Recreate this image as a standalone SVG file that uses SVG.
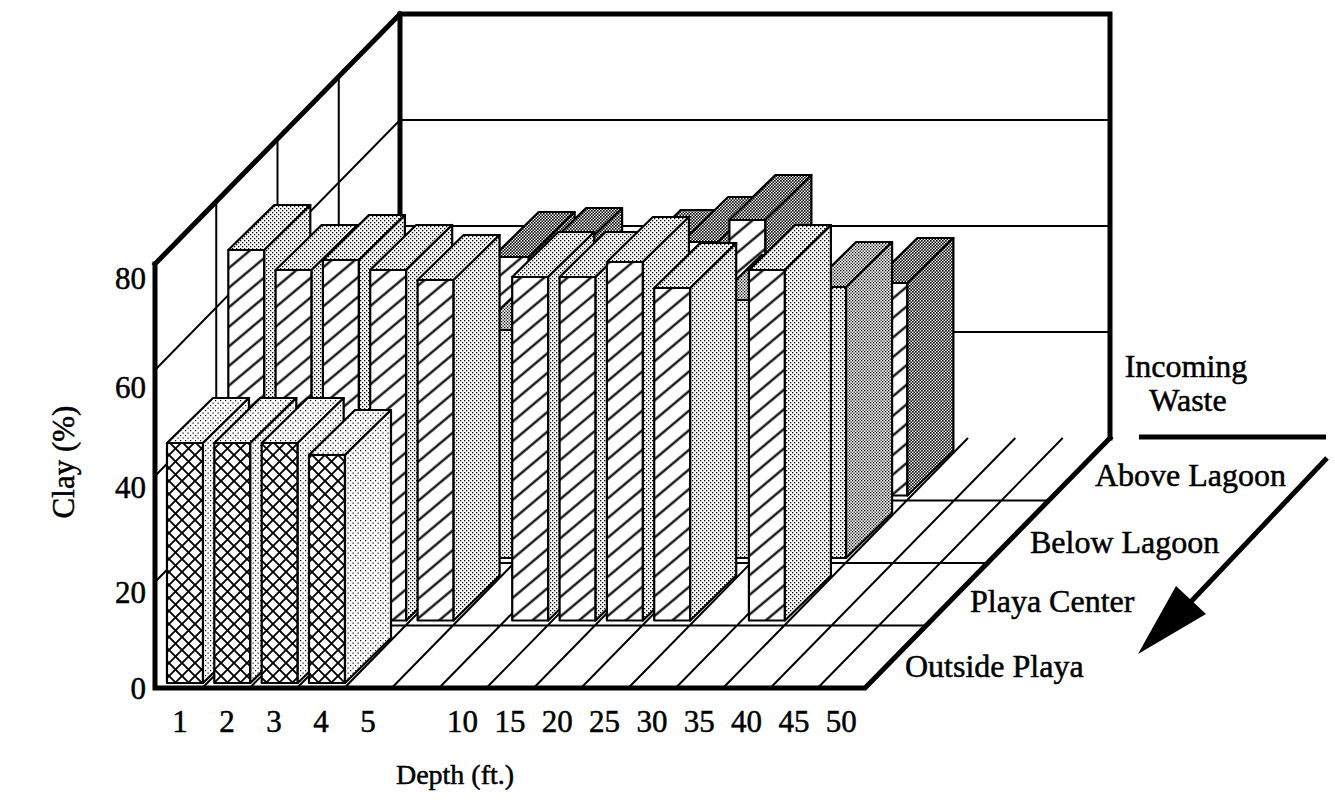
<svg xmlns="http://www.w3.org/2000/svg" width="1335" height="804" viewBox="0 0 1335 804">
<style>
text{font-family:"Liberation Serif","Times New Roman",serif;fill:#000;stroke:#000;stroke-width:0.5}
.ax{font-size:31px}
.lb{font-size:32px}
.thin{stroke:#000;stroke-width:2;fill:none}
.thick{stroke:#000;stroke-width:5;fill:none;stroke-linecap:square}
.bar *{stroke:#000;stroke-width:2.2;stroke-linejoin:round}
.r0 .f{fill:url(#xh)} .r0 .t,.r0 .s{fill:url(#d1)}
.r1 .f{fill:url(#hh)} .r1 .t,.r1 .s{fill:url(#d2)}
.r2 .f{fill:url(#d2)} .r2 .t,.r2 .s{fill:url(#d3)}
.r3 .f{fill:url(#hh)} .r3 .t,.r3 .s{fill:url(#d4)}
</style>
<defs>
<pattern id="xh" width="13" height="13" patternUnits="userSpaceOnUse"><rect width="13" height="13" fill="#fff"/><path d="M0,0L13,13M13,0L0,13" stroke="#000" stroke-width="1.9"/></pattern>
<pattern id="hh" width="20" height="15" patternUnits="userSpaceOnUse" patternTransform="rotate(-40)"><rect width="20" height="15" fill="#fff"/><line x1="0" y1="7.5" x2="20" y2="7.5" stroke="#000" stroke-width="2.2"/></pattern>
<pattern id="d1" width="5" height="5" patternUnits="userSpaceOnUse"><rect width="5" height="5" fill="#fff"/><rect width="1.2" height="1.2" fill="#000"/><rect x="2.5" y="2.5" width="1.2" height="1.2" fill="#000"/></pattern>
<pattern id="d2" width="4" height="4" patternUnits="userSpaceOnUse"><rect width="4" height="4" fill="#fff"/><rect width="1.3" height="1.3" fill="#000"/><rect x="2" y="2" width="1.3" height="1.3" fill="#000"/></pattern>
<pattern id="d3" width="3" height="3" patternUnits="userSpaceOnUse"><rect width="3" height="3" fill="#fff"/><rect width="1.3" height="1.3" fill="#000"/><rect x="1.5" y="1.5" width="1.3" height="1.3" fill="#000"/></pattern>
<pattern id="d4" width="3" height="3" patternUnits="userSpaceOnUse"><rect width="3" height="3" fill="#fff"/><rect width="1.6" height="1.6" fill="#000"/><rect x="1.5" y="1.5" width="1.6" height="1.6" fill="#000"/></pattern>
</defs>
<rect width="1335" height="804" fill="#fff"/>

<g id="floor">
<polygon points="155,688 865,688 1110,438 400,438" fill="#fff"/>
<path class="thin" d="M216.25,625.5H926.25M277.5,563H987.5M338.75,500.5H1048.75M202.33,688L447.33,438M249.67,688L494.67,438M297,688L542,438M344.33,688L589.33,438M391.67,688L636.67,438M439,688L684,438M486.33,688L731.33,438M533.67,688L778.67,438M581,688L826,438M628.33,688L873.33,438M675.67,688L920.67,438M723,688L968,438M770.33,688L1015.33,438M817.67,688L1062.67,438"/>
</g>

<g id="walls">
<path class="thin" d="M155,582L400,332H1110M155,476L400,226H1110M155,370L400,120H1110M216.25,201.5V625.5M277.5,139V563M338.75,76.5V500.5"/>
<path class="thick" d="M400,14V438M400,14H1110V438"/>
</g>

<g id="bars">
<g id="above-lagoon" class="bar r3">
<g><rect class="f" x="492.7" y="257" width="36" height="238.5"/><polygon class="t" points="492.7,257 528.7,257 574.7,212 538.7,212"/><polygon class="s" points="528.7,257 574.7,212 574.7,450.5 528.7,495.5"/></g>
<g><rect class="f" x="540.1" y="253" width="36" height="242.5"/><polygon class="t" points="540.1,253 576.1,253 622.1,208 586.1,208"/><polygon class="s" points="576.1,253 622.1,208 622.1,450.5 576.1,495.5"/></g>
<g><rect class="f" x="634.7" y="255" width="36" height="240.5"/><polygon class="t" points="634.7,255 670.7,255 716.7,210 680.7,210"/><polygon class="s" points="670.7,255 716.7,210 716.7,450.5 670.7,495.5"/></g>
<g><rect class="f" x="682.1" y="242" width="36" height="253.5"/><polygon class="t" points="682.1,242 718.1,242 764.1,197 728.1,197"/><polygon class="s" points="718.1,242 764.1,197 764.1,450.5 718.1,495.5"/></g>
<g><rect class="f" x="729.4" y="220" width="36" height="275.5"/><polygon class="t" points="729.4,220 765.4,220 811.4,175 775.4,175"/><polygon class="s" points="765.4,220 811.4,175 811.4,450.5 765.4,495.5"/></g>
<g><rect class="f" x="871.4" y="283" width="36" height="212.5"/><polygon class="t" points="871.4,283 907.4,283 953.4,238 917.4,238"/><polygon class="s" points="907.4,283 953.4,238 953.4,450.5 907.4,495.5"/></g>
</g>
<g id="below-lagoon" class="bar r2">
<g><rect class="f" x="478.8" y="330" width="36" height="228"/><polygon class="t" points="478.8,330 514.8,330 560.8,285 524.8,285"/><polygon class="s" points="514.8,330 560.8,285 560.8,513 514.8,558"/></g>
<g><rect class="f" x="715.5" y="300" width="36" height="258"/><polygon class="t" points="715.5,300 751.5,300 797.5,255 761.5,255"/><polygon class="s" points="751.5,300 797.5,255 797.5,513 751.5,558"/></g>
<g><rect class="f" x="810.1" y="287" width="36" height="271"/><polygon class="t" points="810.1,287 846.1,287 892.1,242 856.1,242"/><polygon class="s" points="846.1,287 892.1,242 892.1,513 846.1,558"/></g>
</g>
<g id="playa-center" class="bar r1">
<g><rect class="f" x="228.3" y="250" width="36" height="370.5"/><polygon class="t" points="228.3,250 264.3,250 310.3,205 274.3,205"/><polygon class="s" points="264.3,250 310.3,205 310.3,575.5 264.3,620.5"/></g>
<g><rect class="f" x="275.6" y="270" width="36" height="350.5"/><polygon class="t" points="275.6,270 311.6,270 357.6,225 321.6,225"/><polygon class="s" points="311.6,270 357.6,225 357.6,575.5 311.6,620.5"/></g>
<g><rect class="f" x="322.9" y="260" width="36" height="360.5"/><polygon class="t" points="322.9,260 358.9,260 404.9,215 368.9,215"/><polygon class="s" points="358.9,260 404.9,215 404.9,575.5 358.9,620.5"/></g>
<g><rect class="f" x="370.2" y="270" width="36" height="350.5"/><polygon class="t" points="370.2,270 406.2,270 452.2,225 416.2,225"/><polygon class="s" points="406.2,270 452.2,225 452.2,575.5 406.2,620.5"/></g>
<g><rect class="f" x="417.6" y="280" width="36" height="340.5"/><polygon class="t" points="417.6,280 453.6,280 499.6,235 463.6,235"/><polygon class="s" points="453.6,280 499.6,235 499.6,575.5 453.6,620.5"/></g>
<g><rect class="f" x="512.2" y="277" width="36" height="343.5"/><polygon class="t" points="512.2,277 548.2,277 594.2,232 558.2,232"/><polygon class="s" points="548.2,277 594.2,232 594.2,575.5 548.2,620.5"/></g>
<g><rect class="f" x="559.6" y="277" width="36" height="343.5"/><polygon class="t" points="559.6,277 595.6,277 641.6,232 605.6,232"/><polygon class="s" points="595.6,277 641.6,232 641.6,575.5 595.6,620.5"/></g>
<g><rect class="f" x="606.9" y="262" width="36" height="358.5"/><polygon class="t" points="606.9,262 642.9,262 688.9,217 652.9,217"/><polygon class="s" points="642.9,262 688.9,217 688.9,575.5 642.9,620.5"/></g>
<g><rect class="f" x="654.2" y="288" width="36" height="332.5"/><polygon class="t" points="654.2,288 690.2,288 736.2,243 700.2,243"/><polygon class="s" points="690.2,288 736.2,243 736.2,575.5 690.2,620.5"/></g>
<g><rect class="f" x="748.9" y="270" width="36" height="350.5"/><polygon class="t" points="748.9,270 784.9,270 830.9,225 794.9,225"/><polygon class="s" points="784.9,270 830.9,225 830.9,575.5 784.9,620.5"/></g>
</g>
<g id="outside-playa" class="bar r0">
<g><rect class="f" x="167" y="443" width="36" height="240"/><polygon class="t" points="167,443 203,443 249,398 213,398"/><polygon class="s" points="203,443 249,398 249,638 203,683"/></g>
<g><rect class="f" x="214.3" y="443" width="36" height="240"/><polygon class="t" points="214.3,443 250.3,443 296.3,398 260.3,398"/><polygon class="s" points="250.3,443 296.3,398 296.3,638 250.3,683"/></g>
<g><rect class="f" x="261.7" y="443" width="36" height="240"/><polygon class="t" points="261.7,443 297.7,443 343.7,398 307.7,398"/><polygon class="s" points="297.7,443 343.7,398 343.7,638 297.7,683"/></g>
<g><rect class="f" x="309" y="455" width="36" height="228"/><polygon class="t" points="309,455 345,455 391,410 355,410"/><polygon class="s" points="345,455 391,410 391,638 345,683"/></g>
</g>
</g>

<g id="axes">
<path class="thick" d="M155,264V688H865L1110,438M155,264L400,14"/>
</g>

<g id="y-labels" class="ax" text-anchor="end">
<text x="146" y="289">80</text>
<text x="146" y="398">60</text>
<text x="146" y="498">40</text>
<text x="146" y="603">20</text>
<text x="146" y="699">0</text>
</g>
<text class="ax" transform="translate(74,462) rotate(-90)" text-anchor="middle">Clay (%)</text>

<g id="x-labels" class="ax" text-anchor="middle">
<text x="180" y="732">1</text>
<text x="227" y="732">2</text>
<text x="274" y="732">3</text>
<text x="321" y="732">4</text>
<text x="368" y="732">5</text>
<text x="462.6" y="732">10</text>
<text x="510" y="732">15</text>
<text x="557.3" y="732">20</text>
<text x="604.6" y="732">25</text>
<text x="652" y="732">30</text>
<text x="699.3" y="732">35</text>
<text x="746.6" y="732">40</text>
<text x="794" y="732">45</text>
<text x="841.3" y="732">50</text>
</g>
<text class="ax" x="455" y="784" text-anchor="middle" style="font-size:28px">Depth (ft.)</text>

<g id="row-labels" class="lb">
<text x="1186" y="377" text-anchor="middle">Incoming</text>
<text x="1188" y="411" text-anchor="middle">Waste</text>
<text x="1095" y="486">Above Lagoon</text>
<text x="1030" y="553">Below Lagoon</text>
<text x="970" y="612">Playa Center</text>
<text x="905" y="677">Outside Playa</text>
</g>

<g id="connectors">
<line class="thick" x1="1139" y1="437" x2="1326" y2="437" style="stroke-linecap:butt"/>
<line class="thick" x1="1327" y1="458" x2="1185" y2="608" style="stroke-linecap:butt"/>
<polygon points="1138,654 1176,586 1206,614" fill="#000"/>
</g>
</svg>
